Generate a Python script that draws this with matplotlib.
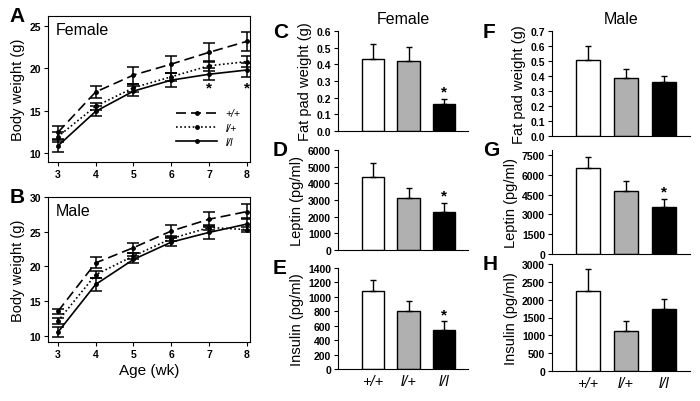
import matplotlib
matplotlib.use("Agg")
import matplotlib.pyplot as plt
import numpy as np
from matplotlib.lines import Line2D

plt.rcParams['font.family'] = ['Liberation Sans', 'DejaVu Sans']

weeks = [3, 4, 5, 6, 7, 8]
genotypes = ['+/+', 'l/+', 'l/l']
fem_wt = [12.4, 17.2, 19.2, 20.5, 21.9, 23.2]
fem_wt_e = [0.8, 0.7, 1.0, 1.0, 1.1, 1.1]
fem_het = [11.9, 15.5, 17.7, 19.0, 20.3, 20.8]
fem_het_e = [0.6, 0.4, 0.5, 0.5, 0.6, 0.7]
fem_ko = [10.8, 14.9, 17.3, 18.6, 19.3, 19.8]
fem_ko_e = [0.7, 0.6, 0.6, 0.8, 0.7, 0.8]
male_wt = [13.5, 20.5, 22.7, 25.1, 26.8, 27.9]
male_wt_e = [0.4, 0.8, 0.7, 0.8, 1.1, 1.1]
male_het = [12.1, 18.8, 21.5, 24.0, 25.6, 25.3]
male_het_e = [0.4, 0.5, 0.5, 0.4, 0.3, 0.4]
male_ko = [10.5, 17.4, 21.0, 23.5, 24.9, 26.1]
male_ko_e = [0.7, 0.9, 0.5, 0.6, 0.9, 0.9]

fat_f = [0.43, 0.42, 0.16]; fat_f_e = [0.09, 0.085, 0.035]
lep_f = [4400, 3150, 2300]; lep_f_e = [850, 600, 550]
ins_f = [1080, 800, 540]; ins_f_e = [150, 140, 120]
fat_m = [0.51, 0.39, 0.36]; fat_m_e = [0.09, 0.06, 0.04]
lep_m = [6500, 4750, 3550]; lep_m_e = [850, 750, 600]
ins_m = [2250, 1120, 1740]; ins_m_e = [620, 280, 270]

W, H = 700, 402
fig = plt.figure(figsize=(7, 4.02), dpi=100)

def ax_px(x0, y0, x1, y1):
    return fig.add_axes([x0 / W, 1 - y1 / H, (x1 - x0) / W, (y1 - y0) / H])

def style_ticks(ax):
    ax.tick_params(axis='both', labelsize=7.5, length=3, width=0.8, pad=2)
    for lab in ax.get_xticklabels() + ax.get_yticklabels():
        lab.set_fontweight('bold')

line_styles = [(0, (6, 3)), (0, (1, 1.5)), '-']

def line_panel(ax, series, ylim, yticks, title, letter, stars=None):
    for (m, e), ls, lab in zip(series, line_styles, genotypes):
        ax.errorbar(weeks, m, yerr=e, color='black', linestyle=ls, lw=1.2,
                    marker='o', ms=2.5, capsize=4, elinewidth=1.1, capthick=1.1, label=lab)
    ax.set_xlim(2.74, 8.08)
    ax.set_ylim(*ylim)
    ax.set_yticks(yticks)
    ax.set_xticks(weeks)
    ax.set_ylabel('Body weight (g)', fontsize=10.5, labelpad=3)
    style_ticks(ax)
    ax.text(0.04, 0.96, title, transform=ax.transAxes, fontsize=11.5, va='top')
    ax.text(-0.19, 1.0, letter, transform=ax.transAxes, fontsize=15, fontweight='bold', va='center')
    if stars:
        for x, y in stars:
            ax.text(x, y, '*', ha='center', va='center', fontsize=11, fontweight='bold')

axA = ax_px(48, 17, 250, 163)
line_panel(axA, [(fem_wt, fem_wt_e), (fem_het, fem_het_e), (fem_ko, fem_ko_e)],
           (8.9, 26.2), [10, 15, 20, 25], 'Female', 'A', stars=[(7, 17.7), (8, 17.7)])
hs = [Line2D([], [], color='black', ls=ls, lw=1.2, marker='o', ms=2.5) for ls in line_styles]
leg = axA.legend(hs, genotypes, loc='lower right', frameon=False, fontsize=7.5,
                 handlelength=4, labelspacing=0.4, bbox_to_anchor=(1.0, 0.04))
for t in leg.get_texts():
    t.set_fontstyle('italic')

axB = ax_px(48, 198, 250, 343)
line_panel(axB, [(male_wt, male_wt_e), (male_het, male_het_e), (male_ko, male_ko_e)],
           (9.1, 30), [10, 15, 20, 25, 30], 'Male', 'B')
axB.set_xlabel('Age (wk)', fontsize=11, labelpad=3)

colors = ['white', '#b0b0b0', 'black']

def bar_panel(ax, vals, errs, ylim, yticks, ylabel, letter, xlim, star=None, xlabels=False, ticklabels=None):
    x = np.arange(3)
    ax.bar(x, vals, width=0.62, color=colors, edgecolor='black', linewidth=1.0)
    ax.errorbar(x, vals, yerr=[np.zeros(3), errs], fmt='none', ecolor='black',
                elinewidth=1.0, capsize=2.5, capthick=1.0)
    ax.set_xlim(*xlim)
    ax.set_ylim(*ylim)
    ax.set_yticks(yticks)
    if ticklabels:
        ax.set_yticklabels(ticklabels)
    ax.set_xticks(x)
    ax.spines['top'].set_visible(False)
    ax.spines['right'].set_visible(False)
    ax.tick_params(axis='x', length=0)
    if xlabels:
        ax.set_xticklabels(genotypes, fontsize=10.5, fontstyle='italic')
    else:
        ax.set_xticklabels([])
    ax.tick_params(axis='y', labelsize=7.5, length=3, width=0.8, pad=2)
    for lab in ax.get_yticklabels():
        lab.set_fontweight('bold')
    ax.set_ylabel(ylabel, fontsize=10.5, labelpad=3)
    ax.text(-0.5, 1.0, letter, transform=ax.transAxes, fontsize=15, fontweight='bold', va='center')
    if star is not None:
        i = star
        ax.text(i, vals[i] + errs[i] + (ylim[1] - ylim[0]) * 0.07, '*', ha='center',
                va='center', fontsize=11, fontweight='bold')

xlC = (-0.98, 2.67)
axC = ax_px(338, 32, 468, 132)
bar_panel(axC, fat_f, fat_f_e, (0, 0.6), np.arange(0, 0.61, 0.1), 'Fat pad weight (g)', 'C', xlC, star=2,
          ticklabels=['%.1f' % v for v in np.arange(0, 0.61, 0.1)])
axC.set_title('Female', fontsize=11.5, pad=6)
axD = ax_px(338, 151, 468, 251)
bar_panel(axD, lep_f, lep_f_e, (0, 6000), range(0, 6001, 1000), 'Leptin (pg/ml)', 'D', xlC, star=2)
axE = ax_px(338, 269, 468, 370)
bar_panel(axE, ins_f, ins_f_e, (0, 1400), range(0, 1401, 200), 'Insulin (pg/ml)', 'E', xlC, star=2, xlabels=True)

xlF = (-0.95, 2.68)
axF = ax_px(552, 32, 690, 137)
bar_panel(axF, fat_m, fat_m_e, (0, 0.7), np.arange(0, 0.71, 0.1), 'Fat pad weight (g)', 'F', xlF,
          ticklabels=['%.1f' % v for v in np.arange(0, 0.71, 0.1)])
axF.set_title('Male', fontsize=11.5, pad=6)
axG = ax_px(552, 151, 690, 255)
bar_panel(axG, lep_m, lep_m_e, (0, 7880), range(0, 7501, 1500), 'Leptin (pg/ml)', 'G', xlF, star=2)
axH = ax_px(552, 265, 690, 372)
bar_panel(axH, ins_m, ins_m_e, (0, 3000), range(0, 3001, 500), 'Insulin (pg/ml)', 'H', xlF, xlabels=True)

fig.savefig('out.png', dpi=100)
